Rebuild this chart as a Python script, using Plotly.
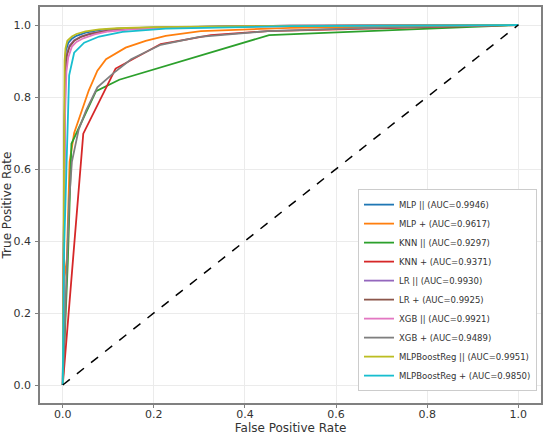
import plotly.graph_objects as go

names = ["MLP ||", "MLP +", "KNN ||", "KNN +", "LR ||", "LR +", "XGB ||", "XGB +",
         "MLPBoostReg ||", "MLPBoostReg +"]
aucs = [0.9946, 0.9617, 0.9297, 0.9371, 0.9930, 0.9925, 0.9921, 0.9489, 0.9951, 0.9850]
colors = ["#1f77b4", "#ff7f0e", "#2ca02c", "#d62728", "#9467bd", "#8c564b",
          "#e377c2", "#7f7f7f", "#bcbd22", "#17becf"]

mlp_par_fpr = [0, 0.002, 0.004, 0.005, 0.007, 0.012, 0.02, 0.03, 0.05, 0.08, 0.12, 0.2, 0.4, 1]
mlp_par_tpr = [0, 0.5, 0.8, 0.9, 0.93, 0.95, 0.962, 0.97, 0.979, 0.986, 0.99, 0.993, 0.997, 1]

mlp_plus_fpr = [0, 0.004, 0.009, 0.0125, 0.015, 0.025, 0.04, 0.057, 0.076, 0.095, 0.138, 0.182, 0.226, 0.303, 0.5, 1]
mlp_plus_tpr = [0, 0.3, 0.35, 0.51, 0.62, 0.70, 0.754, 0.818, 0.873, 0.905, 0.937, 0.956, 0.970, 0.983, 0.992, 1]

knn_par_fpr = [0, 0.006, 0.011, 0.019, 0.073, 0.124, 0.453, 1]
knn_par_tpr = [0, 0.2, 0.34, 0.67, 0.816, 0.848, 0.972, 1]

knn_plus_fpr = [0, 0.045, 0.116, 0.215, 0.325, 0.45, 1]
knn_plus_tpr = [0, 0.698, 0.879, 0.947, 0.972, 0.983, 1]

lr_par_fpr = [0, 0.002, 0.004, 0.006, 0.009, 0.015, 0.025, 0.04, 0.06, 0.1, 0.15, 0.25, 0.5, 1]
lr_par_tpr = [0, 0.45, 0.75, 0.88, 0.92, 0.943, 0.958, 0.968, 0.976, 0.985, 0.99, 0.994, 0.998, 1]

lr_plus_fpr = [0, 0.002, 0.004, 0.006, 0.009, 0.015, 0.025, 0.04, 0.06, 0.1, 0.15, 0.25, 0.5, 1]
lr_plus_tpr = [0, 0.45, 0.72, 0.86, 0.915, 0.94, 0.956, 0.967, 0.975, 0.984, 0.989, 0.994, 0.998, 1]

xgb_par_fpr = [0, 0.002, 0.005, 0.008, 0.012, 0.02, 0.03, 0.045, 0.07, 0.1, 0.15, 0.25, 0.5, 1]
xgb_par_tpr = [0, 0.4, 0.75, 0.87, 0.91, 0.94, 0.953, 0.963, 0.974, 0.982, 0.988, 0.993, 0.997, 1]

xgb_plus_fpr = [0, 0.005, 0.01, 0.014, 0.02, 0.035, 0.051, 0.076, 0.112, 0.15, 0.215, 0.3, 0.45, 0.7, 1]
xgb_plus_tpr = [0, 0.2, 0.38, 0.51, 0.62, 0.71, 0.762, 0.827, 0.867, 0.905, 0.945, 0.967, 0.983, 0.993, 1]

mbr_par_fpr = [0, 0.002, 0.003, 0.004, 0.006, 0.01, 0.02, 0.03, 0.05, 0.08, 0.12, 0.2, 0.4, 1]
mbr_par_tpr = [0, 0.5, 0.8, 0.9, 0.935, 0.956, 0.968, 0.975, 0.982, 0.988, 0.991, 0.994, 0.997, 1]

mbr_plus_fpr = [0, 0.003, 0.008, 0.012, 0.014, 0.025, 0.047, 0.08, 0.131, 0.226, 0.5, 1]
mbr_plus_tpr = [0, 0.38, 0.6, 0.75, 0.86, 0.923, 0.951, 0.968, 0.981, 0.99, 0.997, 1]

fprs = [mlp_par_fpr, mlp_plus_fpr, knn_par_fpr, knn_plus_fpr, lr_par_fpr, lr_plus_fpr,
        xgb_par_fpr, xgb_plus_fpr, mbr_par_fpr, mbr_plus_fpr]
tprs = [mlp_par_tpr, mlp_plus_tpr, knn_par_tpr, knn_plus_tpr, lr_par_tpr, lr_plus_tpr,
        xgb_par_tpr, xgb_plus_tpr, mbr_par_tpr, mbr_plus_tpr]

diag = [0, 1]
ticks = [0.0, 0.2, 0.4, 0.6, 0.8, 1.0]
tick_text = ["0.0", "0.2", "0.4", "0.6", "0.8", "1.0"]

fig = go.Figure()
for n, a, c, fx, ty in zip(names, aucs, colors, fprs, tprs):
    fig.add_trace(go.Scatter(x=fx, y=ty, mode="lines", name=f"{n} (AUC={a:.4f})",
                             line=dict(color=c, width=1.8)))
fig.add_trace(go.Scatter(x=diag, y=diag, mode="lines", showlegend=False,
                         line=dict(color="black", width=1.5, dash="dash")))

axis_common = dict(range=[-0.05, 1.05], tickvals=ticks, ticktext=tick_text,
                   showgrid=True, gridcolor="#ebebeb", gridwidth=1, zeroline=False,
                   showline=True, mirror=True, linecolor="#808080", linewidth=1.5,
                   ticks="outside", ticklen=3, tickcolor="#808080",
                   tickfont=dict(size=11, color="#333333"), automargin=False)

fig.update_layout(
    width=550, height=441,
    margin=dict(l=40, r=9, t=7, b=38),
    paper_bgcolor="white", plot_bgcolor="white",
    font=dict(family="DejaVu Sans", color="#333333"),
    xaxis=dict(title=dict(text="False Positive Rate", font=dict(size=12), standoff=0),
               ticklabelstandoff=-3, **axis_common),
    yaxis=dict(title=dict(text="True Positive Rate", font=dict(size=12), standoff=0),
               ticklabelstandoff=2, **axis_common),
    legend=dict(x=0.992, y=0.03, xanchor="right", yanchor="bottom",
                bgcolor="white", bordercolor="#cccccc", borderwidth=1,
                font=dict(size=8.5, color="#333333"), tracegroupgap=0),
    showlegend=True,
)

fig.write_html("out.html", config={"displayModeBar": False},
               post_script="document.body.style.margin='0';")
